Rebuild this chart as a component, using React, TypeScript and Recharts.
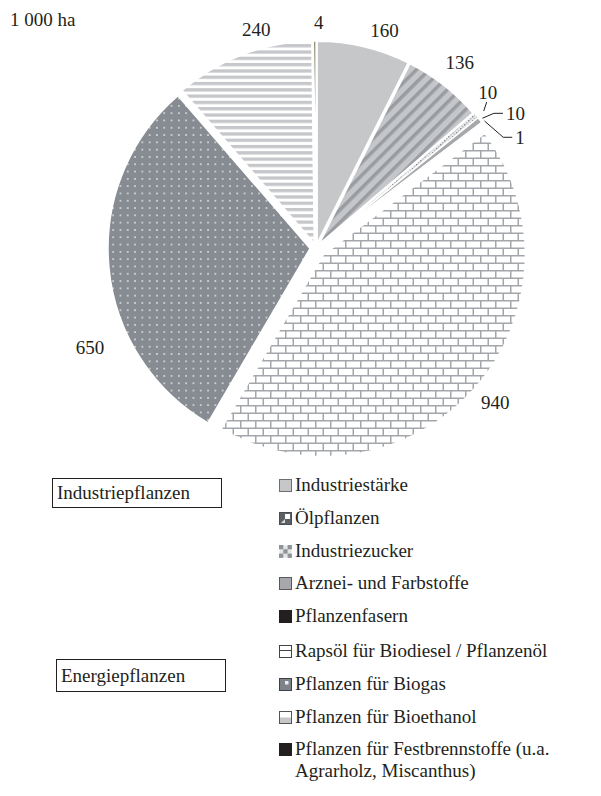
import { PieChart, Pie, Cell, Sector } from "recharts"

const unit = "1 000 ha"
const categories = [
  "Industriestärke",
  "Ölpflanzen",
  "Industriezucker",
  "Arznei- und Farbstoffe",
  "Pflanzenfasern",
  "Rapsöl für Biodiesel / Pflanzenöl",
  "Pflanzen für Biogas",
  "Pflanzen für Bioethanol",
  "Pflanzen für Festbrennstoffe (u.a. Agrarholz, Miscanthus)",
]
const areas = [160, 136, 10, 10, 1, 940, 650, 240, 4]
const groups = ["Industriepflanzen", "Energiepflanzen"]

const data = categories.map((name, i) => ({ name, value: areas[i] }))

// styling per slice
const fills = ["#c6c7c9", "url(#oel)", "url(#zucker)", "#a6a8ab", "#231f20", "url(#brick)", "url(#biogas)", "url(#ethanol)", "#4b5128"]
const explode = [5, 5, 6, 6, 6, 10, 6, 5, 5]
const labelNudge = [[15, 7], [1, -4], [-7, -8], [7, 8], [14, 29], [3, -3], [5, 78], [22, -2], [4, 5]]
const leader = ["", "", "tick", "elbow", "elbow", "", "", "", ""]

const RAD = Math.PI / 180
const FONT = '"Liberation Serif", "Times New Roman", serif'

const idx = (p: any) => categories.indexOf(p?.payload?.name ?? p?.name)

function ExplodedSector(props: any) {
  const i = idx(props)
  const e = explode[i] ?? 0
  const mid = (props.startAngle + props.endAngle) / 2
  return (
    <Sector
      {...props}
      cx={props.cx + e * Math.cos(-mid * RAD)}
      cy={props.cy + e * Math.sin(-mid * RAD)}
    />
  )
}

function renderLabel(props: any) {
  const { cx, cy, midAngle, outerRadius, value } = props
  const i = idx(props)
  const e = explode[i] ?? 0
  const R = outerRadius + e + 24
  const x = cx + R * Math.cos(-midAngle * RAD) + labelNudge[i][0]
  const y = cy + R * Math.sin(-midAngle * RAD) + labelNudge[i][1]
  const r0 = outerRadius + e + 3
  const sx = cx + r0 * Math.cos(-midAngle * RAD)
  const sy = cy + r0 * Math.sin(-midAngle * RAD)
  const kind = leader[i]
  return (
    <g key={`lbl-${i}`}>
      {kind === "elbow" && (
        <polyline points={`${sx},${sy} ${x - 12},${y} ${x - 3},${y}`} fill="none" stroke="#231f20" strokeWidth={1} />
      )}
      {kind === "tick" && (
        <line x1={x - 1} y1={y + 10} x2={x - 4} y2={y + 19} stroke="#231f20" strokeWidth={1} />
      )}
      <text
        x={x}
        y={y}
        textAnchor={kind === "elbow" ? "start" : "middle"}
        dominantBaseline="central"
        style={{ fontFamily: FONT }}
        fontSize={19}
        fill="#231f20"
      >
        {value}
      </text>
    </g>
  )
}

function LegendIcon({ i }: { i: number }) {
  const s = 13
  const box = { x: 0.5, y: 0.5, width: s - 1, height: s - 1 }
  let content
  switch (i) {
    case 0:
      content = <rect {...box} fill="#c6c7c9" stroke="#6d6e71" />
      break
    case 1:
      content = (
        <>
          <rect {...box} fill="#5c6065" stroke="#4a4d51" />
          <polygon points="6,2 11,2 11,7 6,7" fill="#fff" />
          <polygon points="2,11 6,7 6,11" fill="#d8d9da" />
        </>
      )
      break
    case 2:
      content = (
        <>
          <rect {...box} fill="#e3e4e5" />
          {[0, 1, 2].flatMap((r) =>
            [0, 1, 2].map((c) => ((r + c) % 2 === 0 ? <rect key={`${r}${c}`} x={c * 4.3} y={r * 4.3} width={4.3} height={4.3} fill="#8f9296" /> : null))
          )}
        </>
      )
      break
    case 3:
      content = <rect {...box} fill="#a6a8ab" stroke="#58595b" />
      break
    case 5:
      content = (
        <>
          <rect {...box} fill="#fff" stroke="#444" />
          <line x1={1} y1={5.5} x2={12} y2={5.5} stroke="#444" />
        </>
      )
      break
    case 6:
      content = (
        <>
          <rect {...box} fill="#7d8389" stroke="#3e4246" />
          <rect x={6} y={3} width={3.5} height={3.5} fill="#eceef0" />
        </>
      )
      break
    case 7:
      content = (
        <>
          <rect {...box} fill="#fff" stroke="#555" />
          <rect x={1} y={6.5} width={11} height={5.5} fill="#c5c7ca" />
        </>
      )
      break
    default:
      content = <rect {...box} fill="#231f20" stroke="#231f20" />
  }
  return (
    <svg width={s} height={s} style={{ flex: "none", marginTop: 5, marginRight: 3 }}>
      {content}
    </svg>
  )
}

export default function App() {
  return (
    <div style={{ position: "absolute", left: 0, top: 0, width: 601, height: 796, background: "#fff", fontFamily: FONT, color: "#231f20" }}>
      <div style={{ position: "absolute", left: 10, top: 9, fontSize: 19, lineHeight: "22px" }}>{unit}</div>

      <PieChart width={601} height={480} margin={{ top: 0, right: 0, bottom: 0, left: 0 }} style={{ fontFamily: FONT }}>
        <defs>
          <pattern id="oel" width="9" height="9" patternUnits="userSpaceOnUse" patternTransform="rotate(-45)">
            <rect width="9" height="9" fill="#c4c6c9" />
            <rect width="9" height="3.5" fill="#999da2" />
          </pattern>
          <pattern id="zucker" width="4" height="4" patternUnits="userSpaceOnUse">
            <rect width="4" height="4" fill="#e6e7e8" />
            <rect x="0" y="0" width="1.5" height="1.5" fill="#8c8f93" />
            <rect x="2" y="2" width="1.5" height="1.5" fill="#b5b7ba" />
          </pattern>
          <pattern id="brick" width="15" height="15" patternUnits="userSpaceOnUse">
            <rect width="15" height="15" fill="#fff" />
            <path d="M0 0.75H15M0 8.25H15M0.75 0V7.5M8.25 7.5V15" stroke="#a3a6aa" strokeWidth="1.5" />
          </pattern>
          <pattern id="biogas" width="7.3" height="7.3" patternUnits="userSpaceOnUse">
            <rect width="7.3" height="7.3" fill="#868c92" />
            <circle cx="3.65" cy="3.65" r="0.9" fill="#e3e5e7" />
          </pattern>
          <pattern id="ethanol" width="6.3" height="6.3" patternUnits="userSpaceOnUse">
            <rect width="6.3" height="6.3" fill="#fff" />
            <rect width="6.3" height="3.3" fill="#c5c7ca" />
          </pattern>
        </defs>
        <Pie
          data={data}
          dataKey="value"
          nameKey="name"
          cx={316}
          cy={248}
          outerRadius={202}
          startAngle={90}
          endAngle={-270}
          stroke="#fff"
          strokeWidth={1.5}
          label={renderLabel}
          labelLine={false}
          shape={ExplodedSector}
          activeShape={ExplodedSector}
          inactiveShape={ExplodedSector}
          isAnimationActive={false}
        >
          {data.map((d, i) => (
            <Cell key={d.name} fill={fills[i]} />
          ))}
        </Pie>
      </PieChart>

      <div style={{ position: "absolute", left: 52, top: 478, width: 164, height: 28, border: "1px solid #231f20", fontSize: 19, lineHeight: "28px", paddingLeft: 4 }}>
        {groups[0]}
      </div>
      <div style={{ position: "absolute", left: 56, top: 659, width: 164, height: 31, border: "1px solid #231f20", fontSize: 19, lineHeight: "31px", paddingLeft: 4 }}>
        {groups[1]}
      </div>

      {categories.map((name, i) => (
        <div
          key={name}
          style={{
            position: "absolute",
            left: 279,
            top: 485 + i * 32.8 + (i >= 5 ? 2 : 0) - 11,
            width: 322,
            display: "flex",
            alignItems: "flex-start",
            fontSize: 19,
            lineHeight: "22px",
          }}
        >
          <LegendIcon i={i} />
          <span style={{ width: 306 }}>{name}</span>
        </div>
      ))}
    </div>
  )
}
